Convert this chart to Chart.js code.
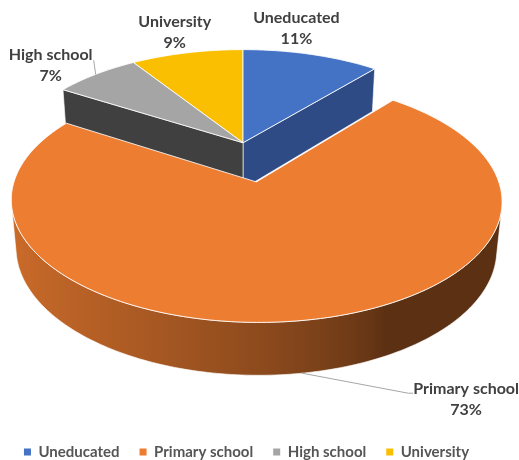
<!DOCTYPE html>
<html>
<head>
<meta charset="utf-8">
<title>Education level</title>
<script src="https://cdn.jsdelivr.net/npm/chart.js@4.4.0/dist/chart.umd.min.js"></script>
<style>
    html, body { margin: 0; padding: 0; background: #fff; }
</style>
</head>
<body>
<canvas id="eduChart" width="519" height="460"></canvas>
<script>
const categories = ['Uneducated', 'Primary school', 'High school', 'University'];
const shares = [11, 73, 7, 9];
const explode = [0, 81, 0, 0];

const topColors = ['#4472C4', '#ED7D31', '#A5A5A5', '#F9BF00'];
const sideColors = ['#2E4B85', '#9C5220', '#404040', '#B08400'];

// camera, lengths in pie radii
const TILT = 29.6 * Math.PI / 180;
const CAM_DIST = 6.02;
const THICK = 0.23;
// screen shift of the pie from the chart-area centre
const PIE_SHIFT_X = -3.5;
const PIE_LIFT = -23.5;

// label placement relative to the rim anchor of each slice
const labelNudge = [[-15, -26], [164, 26], [-45, -9], [-12, -21]];
const leaderEnd = [null, [-58, -6], [43, -5], null];

const sinT = Math.sin(TILT), cosT = Math.cos(TILT);
const eye = { x: 0, y: CAM_DIST * sinT, z: CAM_DIST * cosT };

function makeCamera(arc) {
    const focal = arc.outerRadius * (CAM_DIST - THICK * sinT);
    const ox = arc.x + PIE_SHIFT_X, oy = arc.y + PIE_LIFT;
    return p => {
        const depth = CAM_DIST - p.y * sinT - p.z * cosT;
        return {
            x: ox + focal * p.x / depth,
            y: oy - focal * (p.y * cosT - p.z * sinT) / depth,
            depth: depth
        };
    };
}

function sliceFrame(arc) {
    const mid = (arc.startAngle + arc.endAngle) / 2;
    const push = (arc.options.offset || 0) / arc.outerRadius;
    return {
        start: arc.startAngle,
        end: arc.endAngle,
        mid: mid,
        cx: Math.cos(mid) * push,
        cz: Math.sin(mid) * push
    };
}

function rimPoint(f, a, y) {
    return { x: f.cx + Math.cos(a), y: y, z: f.cz + Math.sin(a) };
}

function sampleAngles(f) {
    const n = Math.max(2, Math.ceil((f.end - f.start) / (Math.PI / 180)));
    const out = [];
    for (let k = 0; k <= n; k++) out.push(f.start + (f.end - f.start) * k / n);
    return out;
}

function shade(hex, k) {
    const v = parseInt(hex.slice(1), 16);
    const r = Math.round(((v >> 16) & 255) * k);
    const g = Math.round(((v >> 8) & 255) * k);
    const b = Math.round((v & 255) * k);
    return `rgb(${r},${g},${b})`;
}

// curved side gets darker towards the right
function sideLight(cosA) {
    const t = (1 - cosA) / 2;
    return 0.39 + 0.47 * Math.pow(Math.max(0, (t - 0.28) / 0.72), 0.7);
}

function tracePath(ctx, pts) {
    ctx.beginPath();
    pts.forEach((p, k) => k ? ctx.lineTo(p.x, p.y) : ctx.moveTo(p.x, p.y));
    ctx.closePath();
}

function avgDepth(pts) {
    return pts.reduce((s, p) => s + p.depth, 0) / pts.length;
}

function drawPie3D(chart) {
    const ctx = chart.ctx;
    const arcs = chart.getDatasetMeta(0).data;
    const project = makeCamera(arcs[0]);
    const walls = [];
    const tops = [];

    arcs.forEach((arc, i) => {
        if (!arc.circumference) return;
        const f = sliceFrame(arc);
        const angles = sampleAngles(f);
        const cTop = { x: f.cx, y: THICK, z: f.cz };
        const cBot = { x: f.cx, y: 0, z: f.cz };

        // top face
        const topPts = [project(cTop)].concat(angles.map(a => project(rimPoint(f, a, THICK))));
        tops.push({ pts: topPts, fill: topColors[i], depth: project({ x: f.cx + Math.cos(f.mid) * 0.5, y: THICK, z: f.cz + Math.sin(f.mid) * 0.5 }).depth });

        // cut faces along the two radii
        [[f.start, 1], [f.end, -1]].forEach(([a, sgn]) => {
            const nx = Math.sin(a) * sgn, nz = -Math.cos(a) * sgn;
            const facing = nx * (eye.x - f.cx) + nz * (eye.z - f.cz) > 0;
            if (!facing) return;
            const pts = [cTop, rimPoint(f, a, THICK), rimPoint(f, a, 0), cBot].map(project);
            walls.push({ pts: pts, fill: sideColors[i], depth: avgDepth(pts) });
        });

        // curved outer side, only the runs that face the camera
        let run = [];
        const flush = () => {
            if (run.length > 1) {
                const upper = run.map(a => project(rimPoint(f, a, THICK)));
                const lower = run.map(a => project(rimPoint(f, a, 0))).reverse();
                const pts = upper.concat(lower);
                const xs = pts.map(p => p.x);
                const x0 = Math.min(...xs), x1 = Math.max(...xs);
                const grad = ctx.createLinearGradient(x0, 0, x1, 0);
                run.forEach((a, k) => {
                    const u = Math.min(1, Math.max(0, (upper[k].x - x0) / (x1 - x0 || 1)));
                    grad.addColorStop(u, shade(topColors[i], sideLight(Math.cos(a))));
                });
                walls.push({ pts: pts, fill: grad, depth: avgDepth(pts) });
            }
            run = [];
        };
        angles.forEach(a => {
            const p = rimPoint(f, a, THICK / 2);
            const vis = Math.cos(a) * (eye.x - p.x) + Math.sin(a) * (eye.z - p.z) > 0;
            if (vis) run.push(a); else flush();
        });
        flush();
    });

    const paint = face => {
        tracePath(ctx, face.pts);
        ctx.fillStyle = face.fill;
        ctx.fill();
        ctx.stroke();
    };

    ctx.save();
    ctx.lineJoin = 'round';
    ctx.strokeStyle = 'rgba(255,255,255,0.85)';
    ctx.lineWidth = 0.75;
    walls.sort((p, q) => q.depth - p.depth).forEach(paint);
    ctx.lineWidth = 1;
    tops.sort((p, q) => q.depth - p.depth).forEach(paint);
    ctx.restore();
}

function drawSliceLabels(chart) {
    const ctx = chart.ctx;
    const arcs = chart.getDatasetMeta(0).data;
    const project = makeCamera(arcs[0]);
    const total = shares.reduce((s, v) => s + v, 0);

    ctx.save();
    ctx.font = 'bold 16px Lato';
    ctx.textAlign = 'center';
    ctx.textBaseline = 'middle';
    arcs.forEach((arc, i) => {
        const f = sliceFrame(arc);
        const front = Math.sin(f.mid) > 0;
        const anchor = project(rimPoint(f, f.mid, front ? 0 : THICK));
        const lx = anchor.x + labelNudge[i][0];
        const ly = anchor.y + labelNudge[i][1];

        if (leaderEnd[i]) {
            const ex = lx + leaderEnd[i][0], ey = ly + leaderEnd[i][1];
            ctx.beginPath();
            ctx.moveTo(anchor.x, anchor.y);
            ctx.lineTo(ex, ey);
            if (front) ctx.lineTo(ex + 5, ey);
            ctx.strokeStyle = '#A6A6A6';
            ctx.lineWidth = 1;
            ctx.stroke();
        }

        ctx.fillStyle = '#404040';
        ctx.fillText(categories[i], lx, ly - 10.5);
        ctx.fillText(Math.round(shares[i] / total * 100) + '%', lx, ly + 10.5);
    });
    ctx.restore();
}

const pie3d = {
    id: 'pie3d',
    beforeDatasetsDraw(chart) {
        drawPie3D(chart);
        return false;
    },
    afterDraw(chart) {
        drawSliceLabels(chart);
    }
};

Chart.defaults.font.family = 'Lato';

new Chart(document.getElementById('eduChart'), {
    type: 'pie',
    data: {
        labels: categories,
        datasets: [{
            data: shares,
            backgroundColor: topColors,
            borderWidth: 0,
            offset: explode
        }]
    },
    options: {
        responsive: false,
        animation: false,
        events: [],
        radius: 230,
        layout: { padding: { left: 0, right: 26, top: 0, bottom: -9.5 } },
        plugins: {
            tooltip: { enabled: false },
            legend: {
                position: 'bottom',
                labels: {
                    boxWidth: 7,
                    boxHeight: 7,
                    padding: 20,
                    color: '#555555',
                    font: { family: 'Lato', size: 15, weight: 'bold' }
                }
            }
        }
    },
    plugins: [pie3d]
});
</script>
</body>
</html>
